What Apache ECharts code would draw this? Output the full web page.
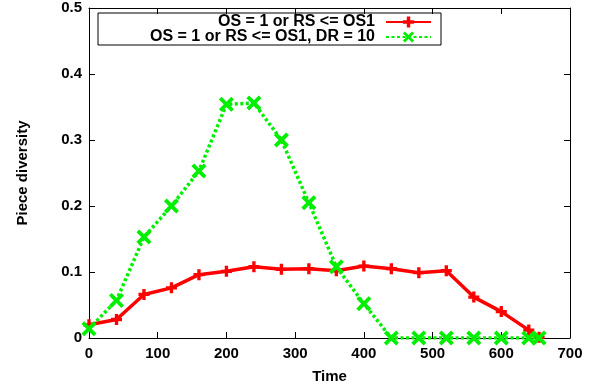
<!DOCTYPE html>
<html>
<head>
<meta charset="utf-8">
<script src="https://cdn.jsdelivr.net/npm/echarts@6/dist/echarts.min.js"></script>
<style>html,body{margin:0;padding:0;background:#fff;}#c{width:597px;height:385px;}</style>
</head>
<body>
<div id="c"></div>
<script>
const times = [0,40,80,120,160,200,240,280,320,360,400,440,480,520,560,600,640,655];
const redValues = [0.020,0.028,0.066,0.076,0.096,0.101,0.108,0.104,0.105,0.102,0.109,0.105,0.099,0.102,0.062,0.040,0.012,0.001];
const greenValues = [0.014,0.057,0.153,0.200,0.253,0.354,0.356,0.300,0.205,0.108,0.052,0,0,0,0,0,0,0];
const seriesNames = ['OS = 1 or RS <= OS1', 'OS = 1 or RS <= OS1, DR = 10'];
const xTicks = {min:0, max:700, interval:100};
const yTicks = {min:0, max:0.5, interval:0.1};

const FONT = 'Liberation Sans';
const plusPath = 'path://M4,0 H7.5 V4 H11.5 V7.5 H7.5 V11.5 H4 V7.5 H0 V4 H4 Z';
const xPath = 'path://M0,2.5 L2.5,0 L7,4.5 L11.5,0 L14,2.5 L9.5,7 L14,11.5 L11.5,14 L7,9.5 L2.5,14 L0,11.5 L4.5,7 Z';

const chart = echarts.init(document.getElementById('c'), null, {renderer:'canvas'});
const axisCommon = {
  axisLine:{show:true, onZero:false, lineStyle:{color:'#000', width:1}},
  axisTick:{show:true, inside:true, length:6, lineStyle:{color:'#000', width:1}},
  splitLine:{show:false}
};
const legendCommon = {
  align:'right', orient:'horizontal', right:165, itemWidth:45, itemHeight:14,
  textStyle:{fontFamily:FONT, fontWeight:'bold', fontSize:16, color:'#000', padding:[0,6,0,0]},
  padding:0, selectedMode:false
};
chart.setOption({
  animation:false,
  grid:{left:89, right:27, top:8, bottom:47, outerBoundsMode:'none', containLabel:false},
  legend:[
    Object.assign({}, legendCommon, {top:14, data:[seriesNames[0]]}),
    Object.assign({}, legendCommon, {top:29, data:[seriesNames[1]]})
  ],
  graphic:[{type:'rect', shape:{x:98, y:13, width:343, height:32}, style:{fill:'none', stroke:'#000', lineWidth:1}, z:100}],
  xAxis:[
    Object.assign({type:'value', position:'bottom', min:xTicks.min, max:xTicks.max, interval:xTicks.interval,
      name:'Time', nameLocation:'middle', nameGap:31,
      nameTextStyle:{fontFamily:FONT, fontWeight:'bold', fontSize:15, color:'#000'},
      axisLabel:{fontFamily:FONT, fontWeight:'bold', fontSize:15, color:'#000', margin:8}}, axisCommon),
    Object.assign({type:'value', position:'top', min:xTicks.min, max:xTicks.max, interval:xTicks.interval,
      axisLabel:{show:false}}, axisCommon)
  ],
  yAxis:[
    Object.assign({type:'value', position:'left', min:yTicks.min, max:yTicks.max, interval:yTicks.interval,
      name:'Piece diversity', nameLocation:'middle', nameGap:59,
      nameTextStyle:{fontFamily:FONT, fontWeight:'bold', fontSize:15, color:'#000'},
      axisLabel:{fontFamily:FONT, fontWeight:'bold', fontSize:15, color:'#000', margin:7}}, axisCommon),
    Object.assign({type:'value', position:'right', min:yTicks.min, max:yTicks.max, interval:yTicks.interval,
      axisLabel:{show:false}}, axisCommon)
  ],
  series:[
    {name:seriesNames[0], type:'line', data:times.map((t,i)=>[t, redValues[i]]),
     symbol:plusPath, symbolSize:11, showAllSymbol:true,
     itemStyle:{color:'#ff0000'}, lineStyle:{color:'#ff0000', width:3.5, type:'solid'}, z:2},
    {name:seriesNames[1], type:'line', data:times.map((t,i)=>[t, greenValues[i]]),
     symbol:xPath, symbolSize:15, showAllSymbol:true,
     itemStyle:{color:'#00ee00'}, lineStyle:{color:'#00ee00', width:3.5, type:[3,2.5]}, z:3}
  ]
});
</script>
</body>
</html>
